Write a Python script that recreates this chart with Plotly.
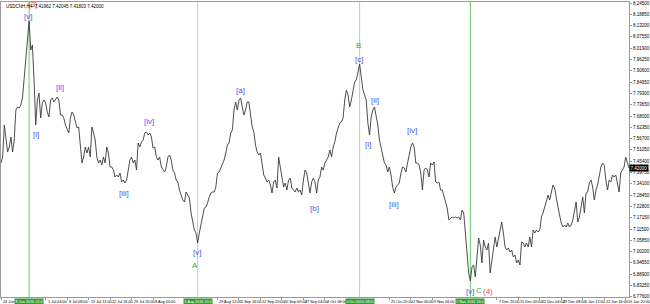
import plotly.graph_objects as go

symbol_header = "USDCNH,H4  7.41962 7.42045 7.41803 7.42000"

closes = [
    7.445, 7.475, 7.635, 7.56, 7.50, 7.525, 7.575, 7.50, 7.56, 7.71,
    7.725, 7.72, 7.735, 7.77, 7.875, 7.965, 8.095, 8.155, 8.01, 8.035,
    7.86, 7.635, 7.76, 7.795, 7.67, 7.745, 7.76, 7.745, 7.70, 7.675,
    7.76, 7.77, 7.75, 7.76, 7.775, 7.76, 7.685, 7.685, 7.67, 7.635,
    7.61, 7.595, 7.67, 7.70, 7.685, 7.65, 7.62, 7.625, 7.52, 7.445,
    7.475, 7.525, 7.495, 7.525, 7.475, 7.625, 7.595, 7.56, 7.475, 7.445,
    7.46, 7.435, 7.475, 7.445, 7.525, 7.495, 7.425, 7.425, 7.41, 7.375,
    7.385, 7.375, 7.395, 7.35, 7.36, 7.345, 7.36, 7.41, 7.46, 7.475,
    7.445, 7.46, 7.41, 7.545, 7.525, 7.55, 7.56, 7.595, 7.60, 7.585,
    7.595, 7.575, 7.52, 7.525, 7.475, 7.46,
    7.475, 7.425, 7.41, 7.40, 7.425, 7.475, 7.485, 7.46, 7.41, 7.395,
    7.36, 7.35, 7.31, 7.285, 7.26, 7.25, 7.30, 7.285, 7.27, 7.195,
    7.145, 7.11, 7.095, 7.045, 7.095, 7.135, 7.175, 7.22, 7.225, 7.245,
    7.275, 7.295, 7.30, 7.30, 7.325, 7.395, 7.40, 7.42, 7.445, 7.46,
    7.495, 7.535, 7.545, 7.595, 7.61, 7.71, 7.75, 7.71, 7.76, 7.77,
    7.725, 7.685, 7.71, 7.75, 7.75, 7.695, 7.625, 7.60, 7.535, 7.50,
    7.485, 7.495, 7.445, 7.385, 7.37, 7.35, 7.36, 7.335, 7.295, 7.35,
    7.36, 7.32, 7.475, 7.425, 7.36, 7.325, 7.345, 7.31, 7.36, 7.37,
    7.32, 7.31, 7.30, 7.32, 7.30, 7.31, 7.285, 7.36, 7.41, 7.395,
    7.35, 7.295, 7.35, 7.37, 7.35, 7.295,
    7.36, 7.375, 7.425, 7.41, 7.445, 7.46, 7.475, 7.51, 7.475, 7.525,
    7.55, 7.595, 7.625, 7.645, 7.65, 7.67, 7.76, 7.81, 7.785, 7.725,
    7.76, 7.81, 7.85, 7.86, 7.895, 7.94, 7.875, 7.81, 7.785, 7.76,
    7.645, 7.585, 7.675, 7.71, 7.725, 7.675, 7.635, 7.56, 7.525, 7.475,
    7.445, 7.435, 7.40, 7.425, 7.385, 7.325, 7.295, 7.325, 7.335, 7.345,
    7.395, 7.425, 7.42, 7.40, 7.445, 7.495, 7.525, 7.545, 7.525, 7.445,
    7.445, 7.435, 7.395, 7.31, 7.41, 7.42, 7.41, 7.375, 7.445, 7.435,
    7.45, 7.35, 7.345, 7.35, 7.31, 7.31, 7.275, 7.245, 7.22, 7.16,
    7.17, 7.175, 7.17, 7.175, 7.17, 7.175, 7.16, 7.21, 7.195, 7.11,
    6.995, 6.895, 6.855, 6.925, 6.935, 6.875,
    6.995, 7.07, 7.035, 6.945, 7.06, 7.025, 7.01, 7.045, 6.895, 6.96,
    7.02, 7.075, 7.025, 7.07, 7.125, 7.15, 7.095, 7.025, 7.01, 7.02,
    7.00, 7.01, 6.975, 6.985, 6.945, 6.96, 6.935, 7.05, 7.045, 7.025,
    7.045, 7.025, 7.075, 7.025, 7.11, 7.095, 7.11, 7.10, 7.11, 7.175,
    7.195, 7.225, 7.245, 7.285, 7.26, 7.30, 7.335, 7.32, 7.26, 7.225,
    7.185, 7.145, 7.125, 7.135, 7.125, 7.145, 7.125, 7.135, 7.16, 7.20,
    7.25, 7.15, 7.175, 7.225, 7.275, 7.195, 7.295, 7.30, 7.345, 7.36,
    7.325, 7.26, 7.31, 7.335, 7.375, 7.425, 7.445, 7.435, 7.36, 7.31,
    7.36, 7.35, 7.385, 7.375, 7.385, 7.35, 7.30, 7.395, 7.41, 7.425,
    7.475, 7.445, 7.42,
]
bars = list(range(len(closes)))

price_ticks = [8.245, 8.1885, 8.132, 8.0755, 8.019, 7.9625, 7.906, 7.8495, 7.793,
               7.7365, 7.68, 7.6235, 7.567, 7.5105, 7.454, 7.3975, 7.341, 7.2845,
               7.228, 7.1715, 7.115, 7.0585, 7.002, 6.9455, 6.889, 6.8325, 6.776]
price_tick_text = ["%.5f" % v for v in price_ticks]

# date labels (those hidden under the highlighted boxes are left out)
date_label_bars = [0, 27, 40, 53, 66, 79, 92, 131, 144, 157, 170, 183, 196,
                   235, 248, 261, 300, 313, 326, 339, 352, 365, 378]
date_labels = ["24 Jun 20", "1 Jul 04:00", "8 Jul 08:00", "15 Jul 12:00",
               "22 Jul 16:00", "29 Jul 20:00", "8 Aug 00:00", "29 Aug 12:00",
               "5 Sep 16:00", "12 Sep 20:00", "20 Sep 00:00", "27 Sep 04:00",
               "4 Oct 08:00", "25 Oct 20:00", "2 Nov 00:00", "9 Nov 04:00",
               "7 Dec 20:00", "15 Dec 00:00", "22 Dec 04:00", "29 Dec 08:00",
               "5 Jan 12:00", "12 Jan 16:00", "19 Jan 20:00"]

marker_bars = [17, 119, 217, 284]
marker_dates = ["28 Jun 2016 12:00", "16 Aug 2016 20:00", "3 Oct 2016 08:00", "25 Nov 2016 16:00"]
marker_colors = ["#6cc86c", "#a6dea6", "#a6dea6", "#6cc86c"]

wave_labels = [
    ("[v]", 16.2, 8.18, "blue"), ("(3)", 19.3, 8.237, "red"),
    ("[i]", 21.3, 7.59, "blue"), ("[ii]", 36, 7.825, "blue"),
    ("[iii]", 74.4, 7.295, "blue"), ("[iv]", 89.4, 7.655, "blue"),
    ("[v]", 118.8, 6.9975, "blue"), ("A", 117.6, 6.935, "green"),
    ("[a]", 145.2, 7.8075, "blue"), ("[b]", 189.6, 7.22, "blue"),
    ("B", 216.6, 8.0325, "green"), ("[c]", 216.9, 7.9625, "blue"),
    ("[i]", 222.3, 7.5375, "blue"), ("[ii]", 226.4, 7.76, "blue"),
    ("[iii]", 238, 7.24, "blue"), ("[iv]", 248.6, 7.61, "blue"),
    ("[v]", 283.5, 6.805, "blue"), ("C", 289.0, 6.8075, "green"),
    ("(4)", 294.6, 6.805, "red"),
]
colors = {"blue": "#5252f5", "green": "#3c9f3c", "red": "#f04848"}

fig = go.Figure()
fig.add_trace(go.Scatter(x=bars, y=closes, mode="lines",
                         line=dict(color="#3a3a3a", width=0.9), hoverinfo="skip"))

shapes = []
for b, c in zip(marker_bars, marker_colors):
    shapes.append(dict(type="line", xref="x", yref="paper", x0=b, x1=b, y0=0, y1=1,
                       line=dict(color=c, width=1), layer="below"))

annotations = []
FONT = "Liberation Sans, Arial, sans-serif"
for txt, bx, py, c in wave_labels:
    annotations.append(dict(x=bx, y=py, xref="x", yref="y", text=txt, showarrow=False,
                            font=dict(family=FONT, size=8, color=colors[c])))
for b, t in zip(date_label_bars, date_labels):
    annotations.append(dict(x=b, y=-0.003, xref="x", yref="paper", text=t, showarrow=False,
                            xanchor="left", yanchor="top",
                            font=dict(family=FONT, size=3.8, color="#000000")))
for b, t in zip(marker_bars, marker_dates):
    annotations.append(dict(x=b, y=-0.003, xref="x", yref="paper", text=t, showarrow=False,
                            xanchor="center", yanchor="top", bgcolor="#2f9e2f", width=27,
                            borderpad=0.5,
                            font=dict(family=FONT, size=3.8, color="#ffffff")))
annotations.append(dict(x=0.004, y=1.0, xref="paper", yref="paper", text=symbol_header,
                        showarrow=False, xanchor="left", yanchor="top",
                        font=dict(family=FONT, size=4.5, color="#000000")))
annotations.append(dict(x=1.0, y=closes[-1], xref="paper", yref="y",
                        text="%.5f" % closes[-1], showarrow=False, xanchor="left",
                        bgcolor="#000000", borderpad=0.5,
                        font=dict(family=FONT, size=4.5, color="#ffffff")))

fig.update_layout(
    width=650, height=304,
    margin=dict(l=0, r=17, t=2, b=7),
    paper_bgcolor="#ffffff", plot_bgcolor="#ffffff",
    showlegend=False,
    shapes=shapes, annotations=annotations,
    xaxis=dict(range=[0, 380], showgrid=False, zeroline=False, showticklabels=False,
               showline=True, linecolor="#9a9a9a", linewidth=1, mirror=True,
               ticks="outside", ticklen=2, tickcolor="#9a9a9a",
               tickvals=date_label_bars),
    yaxis=dict(range=[6.775, 8.25], side="right", showgrid=False, zeroline=False,
               showline=True, linecolor="#9a9a9a", linewidth=1, mirror=True,
               tickvals=price_ticks, ticktext=price_tick_text,
               ticks="outside", ticklen=2, tickcolor="#9a9a9a",
               tickfont=dict(family=FONT, size=4.5, color="#000000")),
)

fig.write_html("out.html")
